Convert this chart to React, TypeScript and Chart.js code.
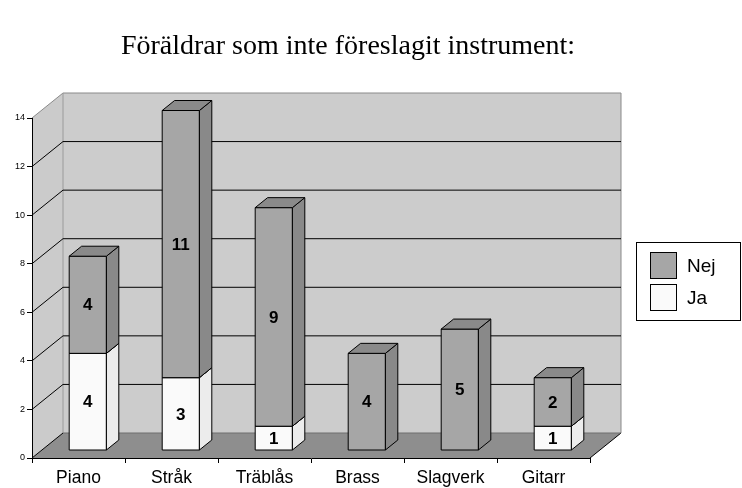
import React, { useEffect, useRef } from 'react';
import { Chart, registerables } from 'chart.js';

Chart.register(...registerables);

const title = 'Föräldrar som inte föreslagit instrument:';
const categories = ['Piano', 'Stråk', 'Träblås', 'Brass', 'Slagverk', 'Gitarr'];
const jaValues = [4, 3, 1, 0, 0, 1];
const nejValues = [4, 11, 9, 4, 5, 2];
const seriesLabels = ['Ja', 'Nej'];
const yMin = 0;
const yMax = 14;
const yStep = 2;

const DX = 31;
const DY = 25;
const FX = DX * 0.3;
const FY = DY * 0.3;
const BX = DX * 0.4;
const BY = DY * 0.4;

const faceColors: Record<string, { front: string; side: string; top: string }> = {
  Ja: { front: '#fafafa', side: '#ececec', top: '#e2e2e2' },
  Nej: { front: '#a6a6a6', side: '#898989', top: '#8a8a8a' },
};

function poly(ctx: CanvasRenderingContext2D, pts: number[][], fill: string, stroke?: string) {
  ctx.beginPath();
  ctx.moveTo(pts[0][0], pts[0][1]);
  for (let i = 1; i < pts.length; i++) ctx.lineTo(pts[i][0], pts[i][1]);
  ctx.closePath();
  ctx.fillStyle = fill;
  ctx.fill();
  if (stroke) {
    ctx.strokeStyle = stroke;
    ctx.lineWidth = 1;
    ctx.stroke();
  }
}

function line(ctx: CanvasRenderingContext2D, pts: number[][], color: string) {
  ctx.beginPath();
  ctx.moveTo(pts[0][0], pts[0][1]);
  for (let i = 1; i < pts.length; i++) ctx.lineTo(pts[i][0], pts[i][1]);
  ctx.strokeStyle = color;
  ctx.lineWidth = 1;
  ctx.stroke();
}

const threeDPlugin = {
  id: 'threeD',
  beforeDraw(chart: any) {
    const { ctx, chartArea: a, scales } = chart;
    const y = scales.y;
    ctx.save();
    // title
    ctx.fillStyle = '#000';
    ctx.font = '28px "Liberation Serif", "Times New Roman", serif';
    ctx.textAlign = 'center';
    ctx.textBaseline = 'alphabetic';
    ctx.fillText(title, 348, 54);

    const L = a.left, R = a.right, T = a.top, B = a.bottom;
    // left wall
    poly(ctx, [[L, B], [L + DX, B - DY], [L + DX, T - DY], [L, T]], '#cbcbcb');
    // back wall
    poly(ctx, [[L + DX, B - DY], [R + DX, B - DY], [R + DX, T - DY], [L + DX, T - DY]], '#cccccc');
    // wall outlines (gray)
    line(ctx, [[L, T], [L + DX, T - DY], [R + DX, T - DY], [R + DX, B - DY]], '#8a8a8a');
    line(ctx, [[L + DX, T - DY], [L + DX, B - DY]], '#9a9a9a');
    // grid lines
    for (let v = yMin + yStep; v <= yMax - yStep + 0.001; v += yStep) {
      const py = y.getPixelForValue(v);
      line(ctx, [[L, py], [L + DX, py - DY], [R + DX, py - DY]], '#000');
    }
    // floor
    poly(ctx, [[L, B], [R, B], [R + DX, B - DY], [L + DX, B - DY]], '#8e8e8e');
    line(ctx, [[L, B], [L + DX, B - DY]], '#000');
    line(ctx, [[R, B], [R + DX, B - DY]], '#000');
    line(ctx, [[L + DX, B - DY], [R + DX, B - DY]], '#6e6e6e');
    ctx.restore();
  },
  beforeDatasetsDraw(chart: any) {
    const { ctx } = chart;
    ctx.save();
    const metas = chart.data.datasets.map((_: any, i: number) => chart.getDatasetMeta(i));
    const n = chart.data.labels.length;
    for (let i = 0; i < n; i++) {
      metas.forEach((meta: any, di: number) => {
        const ds = chart.data.datasets[di];
        const v = ds.data[i];
        if (!v) return;
        const el = meta.data[i];
        const { x, y, base, width } = el.getProps(['x', 'y', 'base', 'width'], true);
        const l = x - width / 2 + FX;
        const r = x + width / 2 + FX;
        const t = y - FY;
        const b = base - FY;
        const c = faceColors[ds.label];
        poly(ctx, [[l, t], [r, t], [r, b], [l, b]], c.front, '#000');
        poly(ctx, [[r, b], [r + BX, b - BY], [r + BX, t - BY], [r, t]], c.side, '#000');
        poly(ctx, [[l, t], [r, t], [r + BX, t - BY], [l + BX, t - BY]], c.top, '#000');
      });
    }
    // labels
    ctx.fillStyle = '#000';
    ctx.font = 'bold 17px "Liberation Sans", Arial, sans-serif';
    ctx.textAlign = 'center';
    ctx.textBaseline = 'middle';
    for (let i = 0; i < n; i++) {
      metas.forEach((meta: any, di: number) => {
        const v = chart.data.datasets[di].data[i];
        if (!v) return;
        const el = meta.data[i];
        const { x, y, base } = el.getProps(['x', 'y', 'base'], true);
        ctx.fillText(String(v), x + FX, (y + base) / 2 - FY + 1);
      });
    }
    ctx.restore();
    return false;
  },
  afterDraw(chart: any) {
    const { ctx } = chart;
    ctx.save();
    // legend
    ctx.fillStyle = '#fff';
    ctx.fillRect(636.5, 242.5, 104, 78);
    ctx.strokeStyle = '#000';
    ctx.lineWidth = 1;
    ctx.strokeRect(636.5, 242.5, 104, 78);
    const items = chart.data.datasets.map((d: any) => d.label).slice().reverse();
    ctx.font = '19px "Liberation Sans", Arial, sans-serif';
    ctx.textAlign = 'left';
    ctx.textBaseline = 'middle';
    items.forEach((lab: string, k: number) => {
      const sy = 252.5 + k * 32;
      ctx.fillStyle = faceColors[lab].front;
      ctx.fillRect(650.5, sy, 26, 26);
      ctx.strokeRect(650.5, sy, 26, 26);
      ctx.fillStyle = '#000';
      ctx.fillText(lab, 687, sy + 14);
    });
    ctx.restore();
  },
};

export default function App() {
  const ref = useRef<HTMLCanvasElement | null>(null);
  useEffect(() => {
    const canvas = ref.current;
    if (!canvas) return;
    const chart = new Chart(canvas, {
      type: 'bar',
      data: {
        labels: categories,
        datasets: [
          { label: seriesLabels[0], data: jaValues, backgroundColor: faceColors.Ja.front },
          { label: seriesLabels[1], data: nejValues, backgroundColor: faceColors.Nej.front },
        ],
      },
      options: {
        responsive: false,
        animation: false,
        devicePixelRatio: 1,
        layout: { padding: { top: 118, right: 152, left: 0, bottom: 0 } },
        categoryPercentage: 0.8,
        barPercentage: 0.5,
        plugins: { legend: { display: false }, tooltip: { enabled: false }, title: { display: false } },
        scales: {
          x: {
            stacked: true,
            afterFit: (s: any) => { s.height = 30; },
            border: { color: '#000', width: 1 },
            grid: { drawOnChartArea: false, drawTicks: true, tickLength: 5, color: '#000', offset: true },
            ticks: { color: '#000', padding: 5, font: { family: '"Liberation Sans", Arial, sans-serif', size: 17.5 }, maxRotation: 0, autoSkip: false },
          },
          y: {
            stacked: true,
            min: yMin,
            max: yMax,
            afterFit: (s: any) => { s.width = 32; },
            border: { color: '#000', width: 1 },
            grid: { drawOnChartArea: false, drawTicks: true, tickLength: 5, color: '#000' },
            ticks: { stepSize: yStep, color: '#000', padding: 2, font: { family: '"Liberation Sans", Arial, sans-serif', size: 9 } },
          },
        },
      } as any,
      plugins: [threeDPlugin],
    });
    return () => chart.destroy();
  }, []);
  return (
    <div style={{ position: 'absolute', left: 0, top: 0, width: 742, height: 488, background: '#fff' }}>
      <canvas ref={ref} width={742} height={488} />
    </div>
  );
}
